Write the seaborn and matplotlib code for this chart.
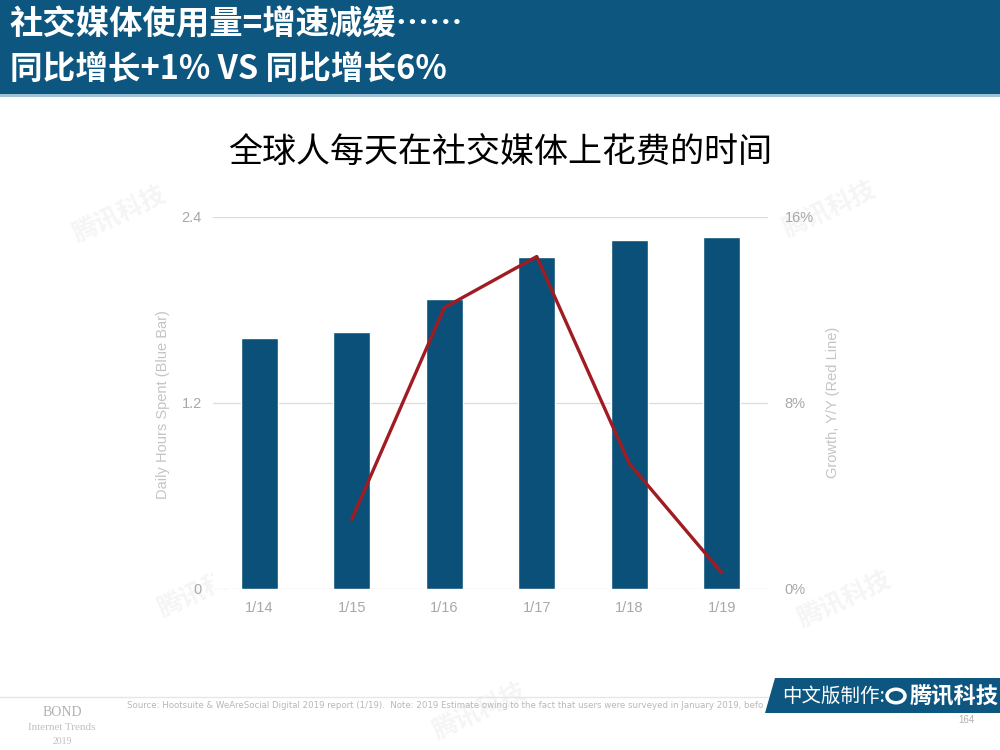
import matplotlib
matplotlib.use('Agg')
import matplotlib.pyplot as plt
import matplotlib.patches as mpatches
import numpy as np
import pandas as pd
import seaborn as sns

# Data
years = ['1/14', '1/15', '1/16', '1/17', '1/18', '1/19']
hours = [1.62, 1.66, 1.87, 2.14, 2.25, 2.27]
growth_years = ['1/15', '1/16', '1/17', '1/18', '1/19']
growth = [3.0, 12.1, 14.3, 5.4, 0.7]
left_ticks = [0, 1.2, 2.4]
left_tick_labels = ['0', '1.2', '2.4']
right_ticks = [0, 8, 16]
right_tick_labels = ['0%', '8%', '16%']

df = pd.DataFrame({'year': years, 'hours': hours})
pos = {y: i for i, y in enumerate(years)}
df_line = pd.DataFrame({'x': [pos[y] for y in growth_years], 'growth': growth})

sns.set_style('white')
plt.rcParams['font.family'] = ['Noto Sans CJK SC', 'DejaVu Sans']

BLUE = '#0b5078'
RED = '#a01c22'
GREY = '#a8a8a8'
W, H = 1000, 750

fig = plt.figure(figsize=(10, 7.5), dpi=100)
fig.patch.set_facecolor('white')

# header band
fig.patches.append(mpatches.Rectangle((0, 1 - 94 / H), 1, 94 / H, transform=fig.transFigure,
                                      facecolor='#0d5680', edgecolor='none', zorder=0))
fig.patches.append(mpatches.Rectangle((0, 1 - 97 / H), 1, 3 / H, transform=fig.transFigure,
                                      facecolor='#9fc3d8', edgecolor='none', zorder=0))
fig.text(10 / W, 1 - 25 / H, '社交媒体使用量=增速减缓……', color='white', fontsize=24,
         fontweight='bold', va='center', ha='left')
fig.text(10 / W, 1 - 69 / H, '同比增长+1% VS 同比增长6%', color='white', fontsize=23.5,
         fontweight='bold', va='center', ha='left')

# chart title
fig.text(0.5, 1 - 152 / H, '全球人每天在社交媒体上花费的时间', color='black', fontsize=24.5,
         ha='center', va='center')

# main axes
ax = fig.add_axes([213 / W, 1 - 589 / H, 555 / W, (589 - 217) / H])
sns.barplot(data=df, x='year', y='hours', color=BLUE, saturation=1, width=0.4, ax=ax, zorder=2)
ax.set_xlim(-0.5, len(years) - 0.5)
ax.set_ylim(0, 2.4)
ax.set_yticks(left_ticks)
ax.set_yticklabels(left_tick_labels)
ax.grid(axis='y', color='#dcdcdc', linewidth=0.9, zorder=0)
ax.set_axisbelow(True)
ax.set_xlabel('')
ax.set_ylabel('')
for s in ax.spines.values():
    s.set_visible(False)
ax.tick_params(axis='both', length=0, colors=GREY, labelsize=10.5)
ax.tick_params(axis='x', pad=9)
ax.tick_params(axis='y', pad=8)
for lbl in ax.get_xticklabels() + ax.get_yticklabels():
    lbl.set_fontfamily('Liberation Sans')

# growth line on the right axis
ax2 = ax.twinx()
sns.lineplot(data=df_line, x='x', y='growth', color=RED, linewidth=2.4, ax=ax2, zorder=3)
ax2.set_ylim(0, 16)
ax2.set_yticks(right_ticks)
ax2.set_yticklabels(right_tick_labels)
ax2.set_ylabel('')
ax2.set_xlim(-0.5, len(years) - 0.5)
for s in ax2.spines.values():
    s.set_visible(False)
ax2.tick_params(axis='y', length=0, colors=GREY, labelsize=10.5, pad=12)
for lbl in ax2.get_yticklabels():
    lbl.set_fontfamily('Liberation Sans')

# axis titles
fig.text(163 / W, 1 - 405 / H, 'Daily Hours Spent (Blue Bar)', rotation=90, color='#c4c4c4',
         fontsize=10.5, ha='center', va='center', family='Liberation Sans')
fig.text(833 / W, 1 - 402 / H, 'Growth, Y/Y (Red Line)', rotation=90, color='#c4c4c4',
         fontsize=10.5, ha='center', va='center', family='Liberation Sans')

# faint watermarks
for wx, wy in [(830, 210), (495, 370), (205, 590), (845, 600), (480, 712), (120, 215)]:
    fig.text(wx / W, 1 - wy / H, '腾讯科技', color='#f5f5f5', fontsize=18, fontweight='bold',
             rotation=25, ha='center', va='center', zorder=-1)

# footer
fig.lines.append(plt.Line2D([0, 780 / W], [1 - 697 / H, 1 - 697 / H], transform=fig.transFigure,
                            color='#e6e6e6', linewidth=1))
fig.text(127 / W, 1 - 705 / H,
         'Source: Hootsuite & WeAreSocial Digital 2019 report (1/19).  Note: 2019 Estimate owing to the fact '
         'that users were surveyed in January 2019, befo',
         color='#b8b8b8', fontsize=6.2, ha='left', va='center', family='Liberation Sans Narrow', zorder=1)
fig.text(62 / W, 1 - 713 / H, 'BOND', color='#b0b0b0', fontsize=10, ha='center', va='center',
         family='Liberation Serif')
fig.text(62 / W, 1 - 727 / H, 'Internet Trends', color='#c0c0c0', fontsize=8, ha='center',
         va='center', family='Liberation Serif')
fig.text(62 / W, 1 - 741 / H, '2019', color='#c0c0c0', fontsize=7, ha='center', va='center',
         family='Liberation Serif')

# ribbon
ribbon = mpatches.Polygon([(775 / W, 1 - 678 / H), (1, 1 - 678 / H), (1, 1 - 713 / H), (765 / W, 1 - 713 / H)],
                          closed=True, transform=fig.transFigure, facecolor='#0d5680', edgecolor='none', zorder=5)
fig.patches.append(ribbon)
fig.text(782 / W, 1 - 696 / H, '中文版制作:', color='white', fontsize=14, ha='left', va='center', zorder=6)
fig.patches.append(mpatches.Circle((896 / W, 1 - 696 / H), 0.009, transform=fig.transFigure,
                                   facecolor='none', edgecolor='white', linewidth=2.5, zorder=6))
fig.text(910 / W, 1 - 696 / H, '腾讯科技', color='white', fontsize=16, fontweight='bold',
         ha='left', va='center', zorder=6)
fig.text(966 / W, 1 - 720 / H, '164', color='#b0b0b0', fontsize=7, ha='center', va='center',
         family='Liberation Sans')

fig.savefig('out.png', dpi=100)
